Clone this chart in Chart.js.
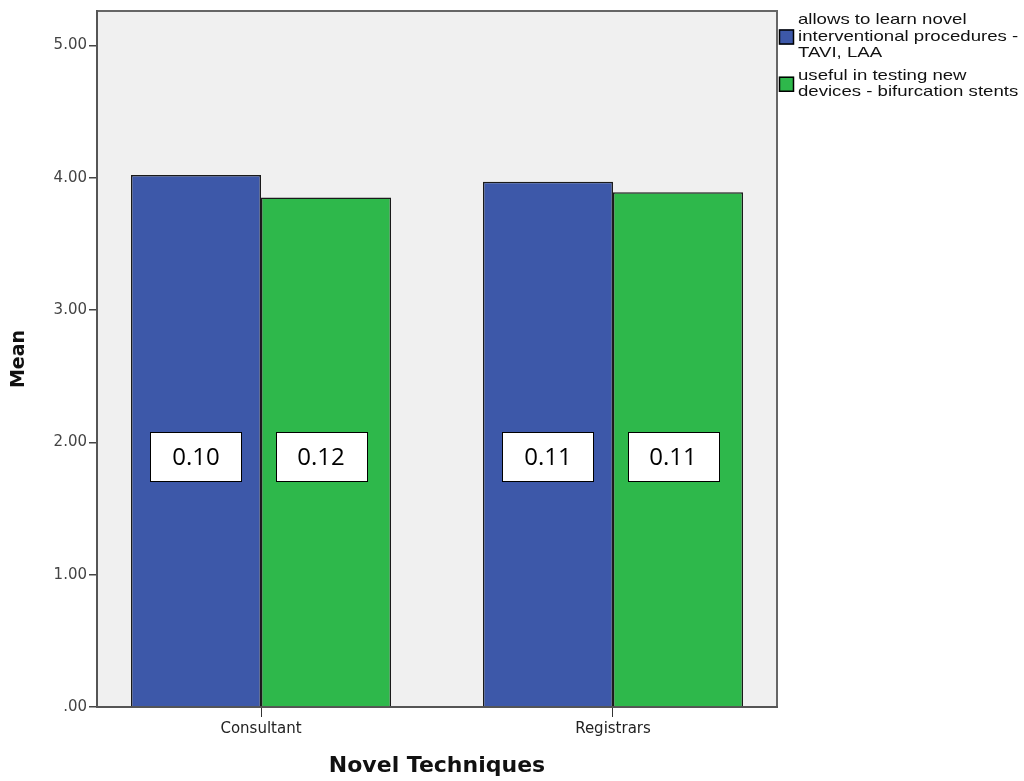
<!DOCTYPE html>
<html>
<head>
<meta charset="utf-8">
<script src="https://cdn.jsdelivr.net/npm/chart.js@4"></script>
<style>
  html, body { margin: 0; padding: 0; background: #fff; }
  #wrap { width: 1024px; height: 781px; }
</style>
</head>
<body>
<div id="wrap"><canvas id="chart" width="1024" height="781"></canvas></div>
<script>
  // categories on the x axis
  let categories = ['Consultant', 'Registrars'];

  // mean per group
  let learnNovel = [4.02, 3.97];
  let testingDevices = [3.85, 3.89];

  // values printed in the boxes over the bars
  let learnNovelBox = ['0.10', '0.11'];
  let testingDevicesBox = ['0.12', '0.11'];

  let legendLines = [
    ['allows to learn novel', 'interventional procedures -', 'TAVI, LAA'],
    ['useful in testing new', 'devices - bifurcation stents']
  ];

  let yTicks = [0, 1, 2, 3, 4, 5];

  let spssFont = '"DejaVu Sans", "Liberation Sans", Arial, sans-serif';

  function fmtTick(v) {
    let s = v.toFixed(2);
    return v === 0 ? s.substring(1) : s;
  }

  function points(values) {
    return values.map((v, i) => ({ x: i, y: v }));
  }

  // light grey plot box behind the bars
  let plotBox = {
    id: 'plotBox',
    beforeDraw(chart) {
      let a = chart.chartArea;
      let ctx = chart.ctx;
      ctx.save();
      ctx.fillStyle = '#f0f0f0';
      ctx.fillRect(a.left, a.top, a.right - a.left, a.bottom - a.top);
      ctx.strokeStyle = '#666';
      ctx.lineWidth = 2;
      ctx.strokeRect(a.left, a.top, a.right - a.left, a.bottom - a.top);
      ctx.restore();
    }
  };

  // white boxes with the small values
  let valueBoxes = {
    id: 'valueBoxes',
    afterDatasetsDraw(chart) {
      let ctx = chart.ctx;
      let yScale = chart.scales.y;
      let yc = yScale.getPixelForValue(1.89);
      ctx.save();
      ctx.font = '24px "Open Sans", sans-serif';
      ctx.textAlign = 'center';
      ctx.textBaseline = 'middle';
      chart.data.datasets.forEach((ds, i) => {
        let meta = chart.getDatasetMeta(i);
        meta.data.forEach((bar, j) => {
          let txt = ds.boxText[j];
          let w = Math.round(ctx.measureText(txt).width + 44);
          let h = 49;
          let cx = bar.x - (i === 1 ? 5 : 0);
          let left = Math.round(cx - w / 2);
          let top = Math.round(yc - h / 2);
          ctx.fillStyle = '#fff';
          ctx.fillRect(left, top, w, h);
          ctx.strokeStyle = '#000';
          ctx.lineWidth = 1;
          ctx.strokeRect(left + 0.5, top + 0.5, w, h);
          ctx.fillStyle = '#000';
          ctx.fillText(txt, cx, yc + 1);
        });
      });
      ctx.restore();
    }
  };

  // legend to the right, wrapped text like the original
  let sideLegend = {
    id: 'sideLegend',
    afterDraw(chart) {
      let ctx = chart.ctx;
      let x = chart.chartArea.right + 2;
      let lineH = 16.5;
      var y = 20;
      ctx.save();
      ctx.font = '15px "Liberation Sans", Arial, sans-serif';
      ctx.textBaseline = 'middle';
      chart.data.datasets.forEach((ds, i) => {
        let lines = legendLines[i];
        let mid = y + (lines.length - 1) * lineH / 2;
        ctx.fillStyle = ds.backgroundColor;
        ctx.fillRect(x, mid - 7, 15, 15);
        ctx.strokeStyle = '#000';
        ctx.lineWidth = 1.5;
        ctx.strokeRect(x + 0.5, mid - 6.5, 14, 14);
        ctx.fillStyle = '#111';
        lines.forEach((t, k) => {
          ctx.save();
          ctx.translate(x + 19, y + k * lineH);
          ctx.scale(1.24, 1);
          ctx.fillText(t, 0, 0);
          ctx.restore();
        });
        y += lines.length * lineH + 6;
      });
      ctx.restore();
    }
  };

  let ctx = document.getElementById('chart').getContext('2d');
  let chart = new Chart(ctx, {
    type: 'bar',
    data: {
      datasets: [
        {
          label: legendLines[0].join(' '),
          data: points(learnNovel),
          boxText: learnNovelBox,
          backgroundColor: '#3d58a9',
          borderColor: '#1a1a1a',
          borderWidth: 1.5
        },
        {
          label: legendLines[1].join(' '),
          data: points(testingDevices),
          boxText: testingDevicesBox,
          backgroundColor: '#2eb84b',
          borderColor: '#1a1a1a',
          borderWidth: 1.5
        }
      ]
    },
    options: {
      responsive: false,
      animation: false,
      devicePixelRatio: 1,
      categoryPercentage: 0.739,
      barPercentage: 1.0,
      layout: { padding: { top: 5, right: 247, left: 0, bottom: 0 } },
      plugins: {
        legend: { display: false },
        tooltip: { enabled: false }
      },
      scales: {
        x: {
          type: 'linear',
          offset: false,
          min: -0.466,
          max: 1.466,
          afterFit: (s) => { s.height = 74; },
          grid: { display: true, offset: false, drawOnChartArea: false, tickLength: 10, color: '#333', lineWidth: 1 },
          border: { display: true, color: '#555', width: 2 },
          ticks: {
            stepSize: 1,
            includeBounds: false,
            autoSkip: false,
            maxRotation: 0,
            padding: 3,
            color: '#222',
            font: { family: spssFont, size: 15 },
            callback: (v) => Number.isInteger(v) && categories[v] !== undefined ? categories[v] : ''
          },
          title: {
            display: true,
            text: 'Novel Techniques',
            color: '#111',
            font: { family: spssFont, size: 22, weight: 'bold' },
            padding: { top: 0, bottom: 2 }
          }
        },
        y: {
          min: 0,
          max: 5.26,
          afterFit: (s) => { s.width = 97; },
          afterBuildTicks: (s) => { s.ticks = yTicks.map(v => ({ value: v })); },
          grid: { display: true, drawOnChartArea: false, tickLength: 8, color: '#444', lineWidth: 1.5 },
          border: { display: true, color: '#555', width: 2 },
          ticks: {
            padding: 2,
            color: '#444',
            font: { family: spssFont, size: 15 },
            callback: (v) => fmtTick(v)
          },
          title: {
            display: true,
            text: 'Mean',
            color: '#111',
            font: { family: spssFont, size: 19, weight: 'bold' },
            padding: { top: 8, bottom: 0 }
          }
        }
      }
    },
    plugins: [plotBox, valueBoxes, sideLegend]
  });
</script>
</body>
</html>
